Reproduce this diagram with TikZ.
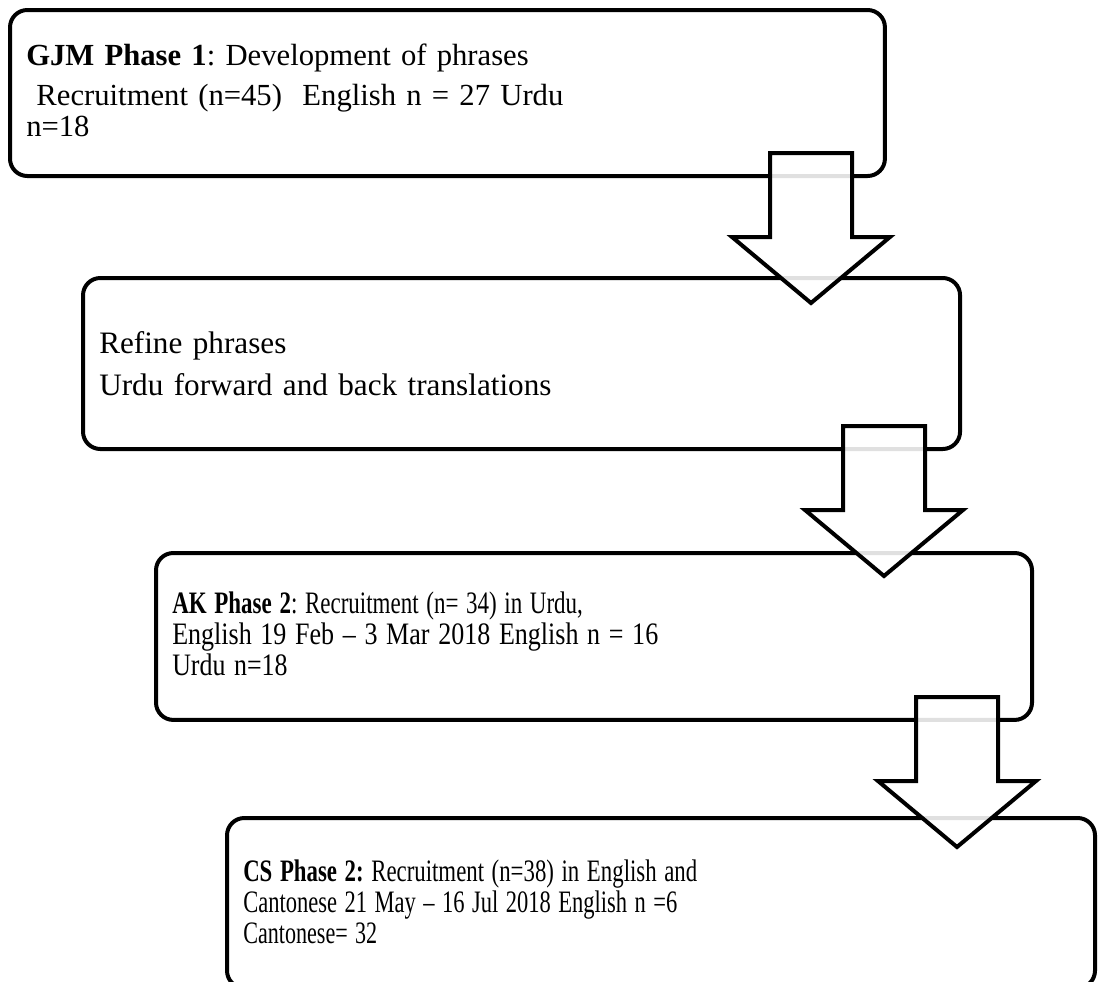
\documentclass[tikz,border=0pt]{standalone}
\usepackage{fontspec}
\usepackage{graphicx}
\setmainfont{Liberation Serif}
\usetikzlibrary{positioning}
\frenchspacing
% squeeze one line of text to a given width, keeping its height
\newcommand{\squeezeline}[2]{\resizebox{#1}{\height}{#2}}
\tikzset{
  phasebox/.style={draw=black,fill=white,line width=3pt,rounded corners=13pt,anchor=north west,
    align=left,inner xsep=12.2pt,inner ysep=0pt,outer sep=0pt,
    font=\fontsize{23.4}{23.25}\selectfont},
  blockarr/.style={draw=black,line width=3pt,fill=white,fill opacity=0.88,line join=miter}
}

\begin{document}
\begin{tikzpicture}[x=0.75pt,y=-0.75pt]
  \useasboundingbox (0,0) rectangle (1101,982);
  \clip (0,0) rectangle (1101,982);

  \node[phasebox,text width=631.8pt,font=\fontsize{23}{23.25}\selectfont] (gjm) at (10,10)
    {\rule{0pt}{41.25pt}\textbf{GJM Phase 1}: Development of phrases\\[6.75pt]
     \ Recruitment (n=45)\ \ English n = 27 Urdu\\
     n=18\rule[-30pt]{0pt}{30pt}};
  \node[phasebox,text width=633.4pt] (refine) at (83,278)
    {\rule{0pt}{56.25pt}Refine phrases\\[8.25pt]
     Urdu forward and back translations\rule[-40.5pt]{0pt}{40.5pt}};
  \node[phasebox,text width=632.6pt,font=\fontsize{23.4}{23.6}\selectfont] (akphase) at (156,553)
    {\rule{0pt}{45pt}\squeezeline{308pt}{\textbf{AK Phase 2}: Recruitment (n= 34) in Urdu,}\\
     \squeezeline{364.5pt}{English 19 Feb \textendash{} 3 Mar 2018 English n = 16}\\
     \squeezeline{86.5pt}{Urdu n=18}\rule[-33pt]{0pt}{33pt}};
  \node[phasebox,text width=626.6pt] (csphase) at (227,818)
    {\rule{0pt}{47.25pt}\squeezeline{340.5pt}{\textbf{CS Phase 2:} Recruitment (n=38) in English and}\\
     \squeezeline{325.5pt}{Cantonese 21 May \textendash{} 16 Jul 2018 English n =6}\\
     \squeezeline{100.5pt}{Cantonese= 32}\rule[-33.75pt]{0pt}{33.75pt}};

  % block arrows between the phases
  \draw[blockarr] (770,153) -- (852,153) -- (852,237) -- (890,237) -- (811,303)
    -- (732,237) -- (770,237) -- cycle;
  \draw[blockarr] (843,426) -- (925,426) -- (925,510) -- (963,510) -- (884,576)
    -- (805,510) -- (843,510) -- cycle;
  \draw[blockarr] (916,697) -- (998,697) -- (998,781) -- (1036,781) -- (957,847)
    -- (878,781) -- (916,781) -- cycle;
\end{tikzpicture}
\end{document}
